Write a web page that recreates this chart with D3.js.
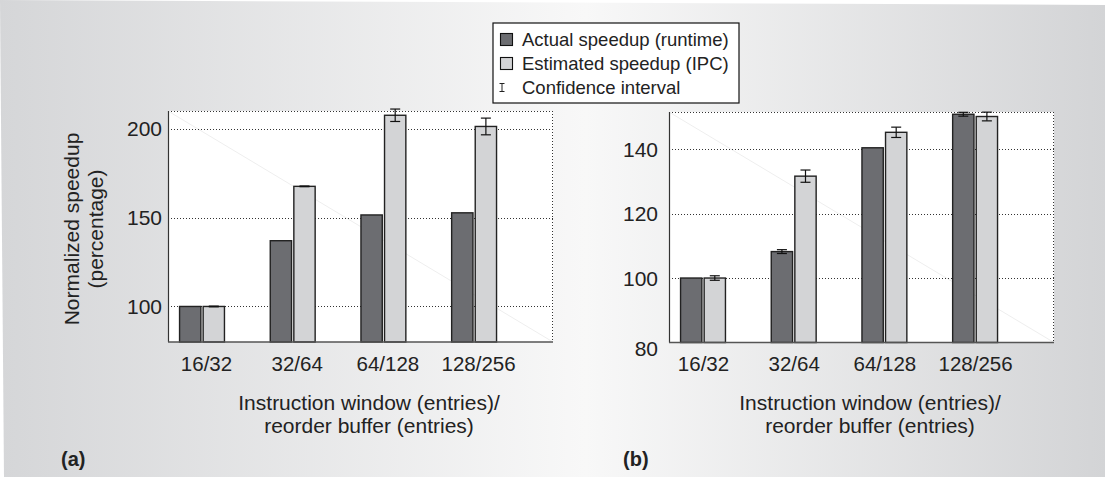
<!DOCTYPE html>
<html>
<head>
<meta charset="utf-8">
<script src="https://cdn.jsdelivr.net/npm/d3@7"></script>
<style>
  body { margin: 0; background: #fff; }
  svg { display: block; font-family: "Liberation Sans", Arial, Helvetica, sans-serif; }
</style>
</head>
<body>
<div id="chart"></div>
<script>
// data
const categories = ["16/32", "32/64", "64/128", "128/256"];

const actualA = [100, 137, 151.5, 152.7];
const actualErrA = [0, 0, 0, 0];
const estimatedA = [100, 167.6, 207.6, 201.3];
const estimatedErrA = [0.2, 0.2, 3.5, 4.7];
const ticksA = [100, 150, 200];

const actualB = [100, 108.2, 140.4, 150.8];
const actualErrB = [0, 0.6, 0, 0.6];
const estimatedB = [100, 131.6, 145.2, 150.1];
const estimatedErrB = [0.7, 1.9, 1.6, 1.35];
const ticksB = [80, 100, 120, 140];

const legendItems = ["Actual speedup (runtime)", "Estimated speedup (IPC)", "Confidence interval"];

const darkFill = "#6c6d71", lightFill = "#d3d4d6", ink = "#222";

var svg = d3.select("#chart").append("svg")
  .attr("width", 1105).attr("height", 481);

// gray backdrop, light in the middle
var defs = svg.append("defs");
var bg = defs.append("linearGradient").attr("id", "bg")
  .attr("x1", "0%").attr("y1", "0%").attr("x2", "100%").attr("y2", "0%");
bg.selectAll("stop")
  .data([[0, "#d5d6d8"], [0.53, "#f8f8f8"], [1, "#d3d4d6"]])
  .enter().append("stop")
  .attr("offset", d => d[0] * 100 + "%")
  .attr("stop-color", d => d[1]);

svg.append("path")
  .attr("d", "M0,0 L1105,5 L1105,477 L4,477 Z")
  .attr("fill", "url(#bg)");

function drawPanel(cfg) {
  const left = cfg.left, right = left + 385, top = cfg.top, bottom = cfg.bottom;
  const x = d3.scaleLinear().domain([0.625, 4.87]).range([left, right]);
  const y = d3.scaleLinear().domain(cfg.domain).range([bottom, top]);
  const g = svg.append("g");
  const barW = 0.235, off = 0.13;

  g.append("rect")
    .attr("x", left).attr("y", top)
    .attr("width", right - left).attr("height", bottom - top)
    .attr("fill", "#fff");

  // faint diagonal seen in the scan
  g.append("line")
    .attr("x1", left).attr("y1", top).attr("x2", right).attr("y2", bottom)
    .attr("stroke", "#eeeeee").attr("stroke-width", 1);

  // dotted grid + top/right frame
  g.selectAll(".grid")
    .data(cfg.ticks.filter(t => t > cfg.domain[0]).concat([cfg.domain[1]]))
    .enter().append("line")
    .attr("x1", left).attr("x2", right)
    .attr("y1", d => Math.round(y(d)) + 0.5).attr("y2", d => Math.round(y(d)) + 0.5)
    .attr("stroke", "#333").attr("stroke-width", 1)
    .attr("stroke-dasharray", "1,2");
  g.append("line")
    .attr("x1", right - 0.5).attr("x2", right - 0.5).attr("y1", top).attr("y2", bottom)
    .attr("stroke", "#333").attr("stroke-dasharray", "1,2");

  const series = [
    { vals: cfg.actual, errs: cfg.actualErr, fill: darkFill, shift: -off },
    { vals: cfg.estimated, errs: cfg.estimatedErr, fill: lightFill, shift: off }
  ];

  series.forEach(s => {
    const idx = d3.range(categories.length);
    g.selectAll(null).data(idx).enter().append("rect")
      .attr("x", i => x(i + 1 + s.shift - barW / 2))
      .attr("width", x(barW) - x(0))
      .attr("y", i => y(s.vals[i]))
      .attr("height", i => y(cfg.domain[0]) - y(s.vals[i]))
      .attr("fill", s.fill)
      .attr("stroke", ink).attr("stroke-width", 1.4);

    const eb = g.selectAll(null).data(idx.filter(i => s.errs[i] > 0)).enter().append("g")
      .attr("stroke", "#111").attr("stroke-width", 1.2);
    eb.append("line")
      .attr("x1", i => x(i + 1 + s.shift)).attr("x2", i => x(i + 1 + s.shift))
      .attr("y1", i => y(s.vals[i] - s.errs[i])).attr("y2", i => y(s.vals[i] + s.errs[i]));
    [-1, 1].forEach(sign => {
      eb.append("line")
        .attr("x1", i => x(i + 1 + s.shift) - 5).attr("x2", i => x(i + 1 + s.shift) + 5)
        .attr("y1", i => y(s.vals[i] + sign * s.errs[i]))
        .attr("y2", i => y(s.vals[i] + sign * s.errs[i]));
    });
  });

  // solid left and bottom axes
  g.append("line")
    .attr("x1", left + 0.5).attr("x2", left + 0.5).attr("y1", top).attr("y2", bottom)
    .attr("stroke", "#333").attr("stroke-width", 1.2);
  g.append("line")
    .attr("x1", left).attr("x2", right).attr("y1", bottom).attr("y2", bottom)
    .attr("stroke", "#555").attr("stroke-width", 1.6);

  // tick labels
  const yAxis = g.append("g")
    .attr("transform", "translate(" + left + ",0)")
    .call(d3.axisLeft(y).tickValues(cfg.ticks).tickSize(0).tickPadding(cfg.yPad));
  yAxis.select(".domain").remove();
  yAxis.selectAll("text")
    .attr("font-size", 21).attr("fill", ink)
    .attr("font-family", "Liberation Sans, Arial, sans-serif")
    .attr("dy", d => d === cfg.domain[0] ? "0.62em" : "0.34em");

  const xAxis = g.append("g")
    .attr("transform", "translate(0," + bottom + ")")
    .call(d3.axisBottom(x).tickValues([1, 2, 3, 4]).tickFormat(i => categories[i - 1])
      .tickSize(0).tickPadding(14));
  xAxis.select(".domain").remove();
  xAxis.selectAll("text")
    .attr("font-size", 20.5).attr("fill", ink)
    .attr("font-family", "Liberation Sans, Arial, sans-serif")
    .attr("dx", cfg.xShift);

  // x title
  const title = g.append("text")
    .attr("text-anchor", "middle").attr("font-size", 21).attr("fill", ink);
  ["Instruction window (entries)/", "reorder buffer (entries)"].forEach((t, k) => {
    title.append("tspan").attr("x", left + 201).attr("y", 410 + k * 23).text(t);
  });

  // panel tag
  svg.append("text")
    .attr("x", cfg.tagX).attr("y", 466)
    .attr("font-size", 20).attr("font-weight", "bold").attr("fill", ink)
    .text(cfg.tag);
}

drawPanel({
  left: 168, top: 111, bottom: 342, domain: [80, 210], ticks: ticksA,
  actual: actualA, actualErr: actualErrA, estimated: estimatedA, estimatedErr: estimatedErrA,
  yPad: 6, xShift: 4, tag: "(a)", tagX: 61
});
drawPanel({
  left: 669, top: 112, bottom: 342.5, domain: [80, 151.5], ticks: ticksB,
  actual: actualB, actualErr: actualErrB, estimated: estimatedB, estimatedErr: estimatedErrB,
  yPad: 11, xShift: 0, tag: "(b)", tagX: 623
});

// y title of panel (a)
const yTitle = svg.append("text")
  .attr("transform", "translate(79,229) rotate(-90)")
  .attr("text-anchor", "middle").attr("font-size", 21).attr("fill", ink);
yTitle.append("tspan").attr("x", 0).attr("y", 0).text("Normalized speedup");
yTitle.append("tspan").attr("x", 0).attr("y", 23.5).text("(percentage)");

// legend
const lg = svg.append("g");
lg.append("rect")
  .attr("x", 493).attr("y", 23).attr("width", 246).attr("height", 80)
  .attr("fill", "#fff").attr("stroke", "#111").attr("stroke-width", 1.2);
const rows = lg.selectAll(".row").data(legendItems).enter().append("g")
  .attr("transform", (d, i) => "translate(0," + (39.5 + i * 24) + ")");
rows.filter((d, i) => i < 2).append("rect")
  .attr("x", 500.5).attr("y", -6).attr("width", 12).attr("height", 12)
  .attr("fill", (d, i) => i === 0 ? darkFill : lightFill)
  .attr("stroke", "#111").attr("stroke-width", 1.1);
const ci = rows.filter((d, i) => i === 2).append("g").attr("stroke", "#222").attr("stroke-width", 1);
ci.append("line").attr("x1", 502).attr("x2", 502).attr("y1", -4).attr("y2", 4);
ci.append("line").attr("x1", 499.5).attr("x2", 504.5).attr("y1", -4).attr("y2", -4);
ci.append("line").attr("x1", 499.5).attr("x2", 504.5).attr("y1", 4).attr("y2", 4);
rows.append("text")
  .attr("x", 522).attr("y", 6.5)
  .attr("font-size", 18.5).attr("fill", ink)
  .text(d => d);
</script>
</body>
</html>
